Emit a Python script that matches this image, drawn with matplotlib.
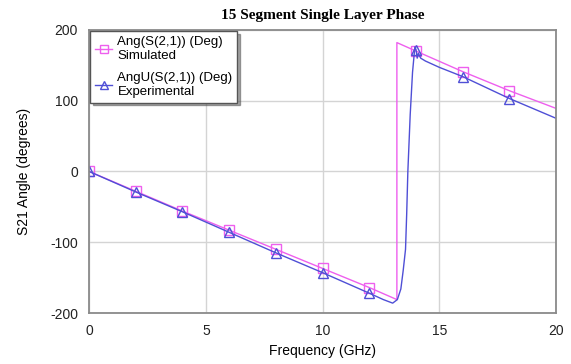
import matplotlib
matplotlib.use("Agg")
import matplotlib.pyplot as plt

# Simulated S21 phase (Deg)
sim_freq = [0, 2, 4, 6, 8, 10, 12, 13.18, 13.18, 14, 16, 18, 20]
sim_phase = [0, -28, -56, -83, -110, -137, -164, -181, 182, 170, 141, 114, 89]
sim_marks = [0, 1, 2, 3, 4, 5, 6, 9, 10, 11]

# Experimental S21 phase (Deg)
exp_freq = [0, 2, 4, 6, 8, 10, 12, 12.6, 13.0, 13.2, 13.35, 13.45, 13.55, 13.6,
            13.65, 13.75, 13.85, 13.95, 14.0, 14.05, 14.1, 14.2, 14.4, 15, 16, 18, 20]
exp_phase = [0, -29, -57, -86, -115, -143, -172, -181, -186, -181, -166, -140, -110, -60,
             0, 80, 140, 176, 172, 160, 167, 160, 156, 147, 134, 103, 75]
exp_marks = [0, 1, 2, 3, 4, 5, 6, 18, 24, 25]

pink = "#ee5fee"
blue = "#4f4fd6"

plt.rcParams["font.family"] = ["Liberation Sans", "DejaVu Sans"]
plt.rcParams["axes.unicode_minus"] = False

fig = plt.figure(figsize=(5.71, 3.64), dpi=100)
ax = fig.add_axes([0.156, 0.140, 0.818, 0.778])

ax.plot(sim_freq, sim_phase, color=pink, lw=1.0, marker="s", ms=7,
        mfc="none", mec=pink, mew=1.0, markevery=sim_marks,
        label="Ang(S(2,1)) (Deg)\nSimulated")
ax.plot(exp_freq, exp_phase, color=blue, lw=1.0, marker="^", ms=7,
        mfc="none", mec=blue, mew=1.0, markevery=exp_marks,
        label="AngU(S(2,1)) (Deg)\nExperimental")

ax.set_xlim(0, 20)
ax.set_ylim(-200, 200)
ax.set_xticks([0, 5, 10, 15, 20])
ax.set_yticks([-200, -100, 0, 100, 200])
ax.grid(True, color="#d4d4d4", lw=1.0)
ax.tick_params(length=0, labelsize=10, pad=8, colors="#222222")
for s in ax.spines.values():
    s.set_color("#8a8a8a")
    s.set_linewidth(1.3)

ax.set_xlabel("Frequency (GHz)", fontsize=10, labelpad=4)
ax.set_ylabel("S21 Angle (degrees)", fontsize=10, labelpad=14)
ax.set_title("15 Segment Single Layer Phase", fontsize=11, fontweight="bold",
             family="Liberation Serif", pad=8)

leg = ax.legend(loc="upper left", fontsize=9.5, frameon=True, fancybox=False,
                shadow=True, borderaxespad=0.1, handlelength=1.3,
                handletextpad=0.4, labelspacing=0.8, borderpad=0.35,
                markerscale=0.8)
leg.get_frame().set_edgecolor("#555555")
leg.get_frame().set_linewidth(1.0)

fig.savefig("out.png", dpi=100)
